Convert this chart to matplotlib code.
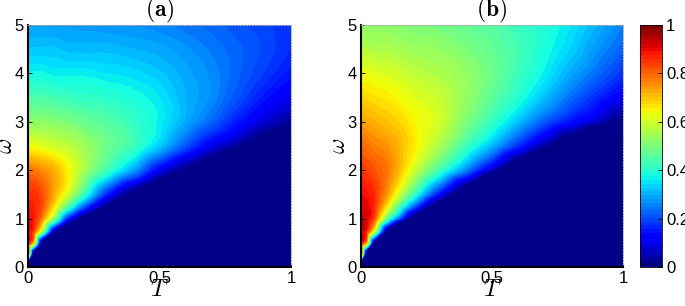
import matplotlib

matplotlib.use('Agg')

import matplotlib.pyplot as plt
import matplotlib.tri as mtri
import numpy as np

plt.rcParams.update({
    'font.family': 'Liberation Sans',
    'font.size': 12,
    'mathtext.fontset': 'cm',
    'xtick.direction': 'in',
    'ytick.direction': 'in',
})

# grid (rows: T, columns: omega)
T_vals = [0, 0.02, 0.05, 0.1, 0.15, 0.2, 0.3, 0.4, 0.5, 0.6, 0.7, 0.8, 0.9, 1.0]
w_vals = [0, 0.25, 0.5, 0.75, 1, 1.25, 1.5, 2, 2.5, 3, 3.5, 4, 4.5, 5]

# omega where the field drops to zero, per T
edge_a = [0.1, 0.3, 0.47, 0.7, 0.87, 0.98, 1.25, 1.55, 1.78, 2.0, 2.25, 2.48, 2.7, 2.9]
edge_b = [0.1, 0.3, 0.5, 0.75, 0.92, 1.05, 1.35, 1.65, 1.95, 2.2, 2.45, 2.7, 2.9, 3.05]

vals_a = [
    [0, 0.85, 0.90, 0.90, 0.90, 0.88, 0.85, 0.78, 0.64, 0.52, 0.44, 0.37, 0.32, 0.28],
    [0, 0, 0.70, 0.85, 0.88, 0.87, 0.86, 0.78, 0.63, 0.52, 0.44, 0.37, 0.32, 0.28],
    [0, 0, 0, 0.60, 0.78, 0.83, 0.83, 0.76, 0.62, 0.52, 0.44, 0.37, 0.32, 0.28],
    [0, 0, 0, 0.05, 0.50, 0.66, 0.72, 0.72, 0.60, 0.51, 0.43, 0.36, 0.32, 0.28],
    [0, 0, 0, 0, 0.15, 0.45, 0.60, 0.65, 0.58, 0.50, 0.42, 0.36, 0.31, 0.28],
    [0, 0, 0, 0, 0, 0.25, 0.45, 0.57, 0.55, 0.48, 0.41, 0.36, 0.31, 0.275],
    [0, 0, 0, 0, 0, 0, 0.15, 0.42, 0.48, 0.45, 0.40, 0.35, 0.31, 0.27],
    [0, 0, 0, 0, 0, 0, 0, 0.28, 0.42, 0.41, 0.38, 0.34, 0.30, 0.265],
    [0, 0, 0, 0, 0, 0, 0, 0.10, 0.32, 0.36, 0.35, 0.32, 0.29, 0.255],
    [0, 0, 0, 0, 0, 0, 0, 0, 0.20, 0.29, 0.30, 0.29, 0.27, 0.24],
    [0, 0, 0, 0, 0, 0, 0, 0, 0.09, 0.22, 0.26, 0.26, 0.245, 0.225],
    [0, 0, 0, 0, 0, 0, 0, 0, 0.01, 0.14, 0.20, 0.22, 0.22, 0.205],
    [0, 0, 0, 0, 0, 0, 0, 0, 0, 0.07, 0.14, 0.18, 0.195, 0.19],
    [0, 0, 0, 0, 0, 0, 0, 0, 0, 0.02, 0.09, 0.14, 0.165, 0.17],
]

vals_b = [
    [0, 0.85, 0.90, 0.93, 0.93, 0.92, 0.90, 0.85, 0.80, 0.74, 0.69, 0.63, 0.57, 0.52],
    [0, 0, 0.72, 0.88, 0.92, 0.91, 0.89, 0.84, 0.79, 0.73, 0.68, 0.63, 0.57, 0.52],
    [0, 0, 0, 0.62, 0.82, 0.86, 0.86, 0.82, 0.77, 0.72, 0.67, 0.62, 0.56, 0.52],
    [0, 0, 0, 0, 0.45, 0.65, 0.74, 0.78, 0.75, 0.70, 0.66, 0.61, 0.56, 0.52],
    [0, 0, 0, 0, 0.18, 0.42, 0.58, 0.70, 0.71, 0.68, 0.64, 0.60, 0.55, 0.51],
    [0, 0, 0, 0, 0, 0.22, 0.42, 0.60, 0.66, 0.65, 0.62, 0.58, 0.54, 0.50],
    [0, 0, 0, 0, 0, 0, 0.12, 0.42, 0.55, 0.60, 0.59, 0.56, 0.53, 0.49],
    [0, 0, 0, 0, 0, 0, 0, 0.25, 0.42, 0.50, 0.53, 0.53, 0.50, 0.47],
    [0, 0, 0, 0, 0, 0, 0, 0.05, 0.30, 0.41, 0.46, 0.48, 0.47, 0.45],
    [0, 0, 0, 0, 0, 0, 0, 0, 0.16, 0.31, 0.39, 0.42, 0.43, 0.42],
    [0, 0, 0, 0, 0, 0, 0, 0, 0.025, 0.21, 0.31, 0.36, 0.38, 0.39],
    [0, 0, 0, 0, 0, 0, 0, 0, 0, 0.13, 0.23, 0.29, 0.33, 0.35],
    [0, 0, 0, 0, 0, 0, 0, 0, 0, 0.06, 0.16, 0.23, 0.27, 0.30],
    [0, 0, 0, 0, 0, 0, 0, 0, 0, 0, 0.10, 0.17, 0.22, 0.25],
]

titles = [r'$\mathbf{(a)}$', r'$\mathbf{(b)}$']


def build_tri(vals, edge):
    # per column: omega=0, the zero edge, then the grid points above the edge
    xs, ys, zs, cols = [], [], [], []
    for t, e, col in zip(T_vals, edge, vals):
        idx = []
        for w, v in [(0, 0.0), (e, 0.0)] + [(w, v) for w, v in zip(w_vals, col) if w > e]:
            idx.append(len(xs))
            xs.append(t)
            ys.append(w)
            zs.append(v)
        cols.append(idx)
    tris = []
    for L, R in zip(cols[:-1], cols[1:]):
        # zero region below the edge
        tris.append([L[0], R[0], L[1]])
        tris.append([L[1], R[0], R[1]])
        # zip the points above the edge into a strip of triangles
        i, j = 1, 1
        while i < len(L) - 1 or j < len(R) - 1:
            if j == len(R) - 1 or (i < len(L) - 1 and ys[L[i + 1]] <= ys[R[j + 1]]):
                tris.append([L[i], R[j], L[i + 1]])
                i += 1
            else:
                tris.append([L[i], R[j], R[j + 1]])
                j += 1
    return mtri.Triangulation(xs, ys, tris), np.array(zs)


cmap = plt.get_cmap('jet', 64)
levels = np.linspace(0, 1, 61)

fig = plt.figure(figsize=(6.85, 3.06), dpi=100)
ax_a = fig.add_axes([28 / 685, 39 / 306, 263 / 685, 242 / 306])
ax_b = fig.add_axes([361 / 685, 39 / 306, 262 / 685, 242 / 306])
cax = fig.add_axes([640 / 685, 39 / 306, 22 / 685, 242 / 306])

for ax, vals, edge, title in zip([ax_a, ax_b], [vals_a, vals_b], [edge_a, edge_b], titles):
    tri, z = build_tri(vals, edge)
    refiner = mtri.UniformTriRefiner(tri)
    tri_f, z_cub = refiner.refine_field(z, triinterpolator=mtri.CubicTriInterpolator(tri, z, kind='geom'), subdiv=3)
    _, z_lin = refiner.refine_field(z, triinterpolator=mtri.LinearTriInterpolator(tri, z), subdiv=3)
    z_f = np.where(z_lin <= 1e-9, 0.0, np.clip(z_cub, 0, 1))
    ax.tricontourf(tri_f, z_f, levels=levels, cmap='jet', vmin=0, vmax=1, extend='both')
    ax.set_xlim(0, 1)
    ax.set_ylim(0, 5)
    ax.set_xticks([0, 0.5, 1])
    ax.set_xticklabels(['0', '0.5', '1'])
    ax.set_yticks([0, 1, 2, 3, 4, 5])
    ax.tick_params(length=3, width=0.6, labelsize=12, pad=3)
    for s in ['top', 'right']:
        ax.spines[s].set_linestyle(':')
        ax.spines[s].set_color('#aaaaaa')
        ax.spines[s].set_linewidth(0.8)
    for s in ['left', 'bottom']:
        ax.spines[s].set_linewidth(1.5)
    ax.set_xlabel(r'$T$', fontsize=17, labelpad=-5)
    ax.set_ylabel(r'$\omega$', fontsize=17, labelpad=-2)
    ax.set_title(title, fontsize=17, pad=1)

sm = plt.cm.ScalarMappable(cmap=cmap, norm=plt.Normalize(0, 1))
cb = fig.colorbar(sm, cax=cax)
cb.set_ticks([0, 0.2, 0.4, 0.6, 0.8, 1])
cb.set_ticklabels(['0', '0.2', '0.4', '0.6', '0.8', '1'])
cb.ax.tick_params(direction='in', length=3, width=0.6, labelsize=12, pad=3)
cb.outline.set_linewidth(0.6)

plt.savefig('out.png', dpi=100)
